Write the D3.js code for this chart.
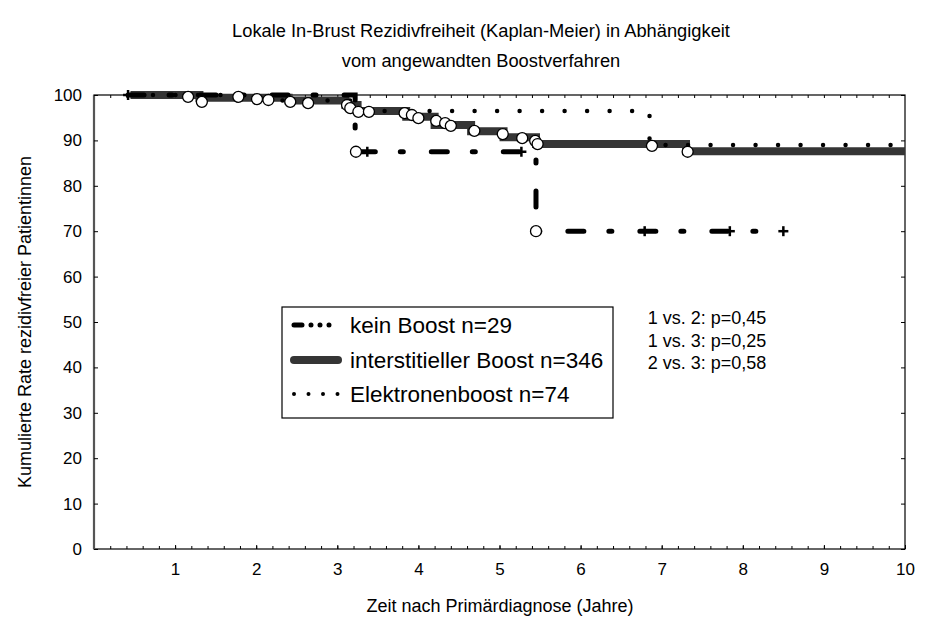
<!DOCTYPE html>
<html lang="de">
<head>
<meta charset="UTF-8">
<title>Kaplan-Meier Boostverfahren</title>
<script src="https://d3js.org/d3.v7.min.js"></script>
<style>
    body { margin: 0; background: #fff; }
    text { font-family: Arial, "Liberation Sans", sans-serif; fill: #000; }
</style>
</head>
<body>
<svg id="chart" width="927" height="619"></svg>
<script>
    // step points [years, % rezidivfrei]
    const keinBoost = [[0.42, 100], [3.22, 87.5], [5.45, 70], [8.5, 70]];
    const interstitiell = [[0.45, 100], [1.3, 99.4], [2.4, 98.8], [3.1, 97.8], [3.25, 96.5], [3.85, 95.2],
        [4.2, 93.4], [4.65, 92.0], [5.05, 90.7], [5.45, 89.2], [7.3, 87.6], [10, 87.6]];
    const elektronen = [[0.45, 100], [1.6, 98.8], [3.25, 96.5], [6.85, 89], [10, 89]];

    // markers
    const keinCircles = [[3.23, 87.5], [5.45, 70]];
    const keinPlus = [[0.42, 100], [3.37, 87.5], [5.27, 87.5], [6.79, 70], [7.84, 70], [8.5, 70]];
    const interCircles = [[1.16, 99.6], [1.33, 98.5], [1.78, 99.6], [2.01, 99.1], [2.15, 98.9], [2.42, 98.5],
        [2.64, 98.2], [3.12, 97.8], [3.16, 97.1], [3.26, 96.3], [3.39, 96.3], [3.83, 96.0], [3.92, 95.6],
        [4.0, 94.9], [4.22, 94.3], [4.33, 93.8], [4.4, 93.2], [4.69, 92.1], [5.04, 91.4], [5.28, 90.5],
        [5.44, 89.9], [5.47, 89.2], [6.88, 88.8], [7.32, 87.5]];

    const xTicks = [1, 2, 3, 4, 5, 6, 7, 8, 9, 10];
    const yTicks = [0, 10, 20, 30, 40, 50, 60, 70, 80, 90, 100];
    const legendLabels = ["kein Boost n=29", "interstitieller Boost n=346", "Elektronenboost n=74"];
    const pValues = ["1 vs. 2: p=0,45", "1 vs. 3: p=0,25", "2 vs. 3: p=0,58"];

    const margin = {left: 94, top: 95, right: 22, bottom: 70};
    const width = 927, height = 619;
    const svg = d3.select("#chart");

    const x = d3.scaleLinear().domain([0, 10]).range([margin.left, width - margin.right]);
    const y = d3.scaleLinear().domain([0, 100]).range([height - margin.bottom, margin.top]);

    // titles
    svg.append("text").attr("x", 481).attr("y", 37).attr("text-anchor", "middle")
        .attr("font-size", 18.3).text("Lokale In-Brust Rezidivfreiheit (Kaplan-Meier) in Abhängigkeit");
    svg.append("text").attr("x", 481).attr("y", 67).attr("text-anchor", "middle")
        .attr("font-size", 18.3).text("vom angewandten Boostverfahren");

    // frame
    svg.append("rect")
        .attr("x", x(0)).attr("y", y(100))
        .attr("width", x(10) - x(0)).attr("height", y(0) - y(100))
        .attr("fill", "#fff").attr("stroke", "#000").attr("stroke-width", 1.2);
    svg.append("line").attr("x1", x(0)).attr("x2", x(0)).attr("y1", y(100)).attr("y2", y(0))
        .attr("stroke", "#555").attr("stroke-width", 2.2);

    // axes, ticks inside
    const minor = d3.range(0.2, 10, 0.2);
    svg.append("g").attr("transform", `translate(0,${y(0)})`)
        .call(d3.axisBottom(x).tickValues(minor).tickSize(-3).tickFormat(""))
        .call(g => g.select(".domain").remove());
    svg.append("g").attr("transform", `translate(0,${y(100)})`)
        .call(d3.axisTop(x).tickValues(minor).tickSize(-3).tickFormat(""))
        .call(g => g.select(".domain").remove());
    svg.append("g").attr("transform", `translate(0,${y(0)})`)
        .call(d3.axisBottom(x).tickValues(xTicks).tickSize(-4).tickPadding(14).tickFormat(d3.format("d")))
        .call(g => g.select(".domain").remove())
        .call(g => g.selectAll("text").attr("font-size", 17).attr("font-family", "Arial, 'Liberation Sans', sans-serif"));
    svg.append("g").attr("transform", `translate(${x(0)},0)`)
        .call(d3.axisLeft(y).tickValues(yTicks).tickSize(-4).tickPadding(12).tickFormat(d3.format("d")))
        .call(g => g.select(".domain").remove())
        .call(g => g.selectAll("text").attr("font-size", 17).attr("font-family", "Arial, 'Liberation Sans', sans-serif"));
    svg.append("g").attr("transform", `translate(${x(10)},0)`)
        .call(d3.axisRight(y).tickValues(yTicks).tickSize(-4).tickFormat(""))
        .call(g => g.select(".domain").remove());

    // axis labels
    svg.append("text").attr("x", 500).attr("y", 612).attr("text-anchor", "middle")
        .attr("font-size", 18).text("Zeit nach Primärdiagnose (Jahre)");
    svg.append("text").attr("transform", `translate(31,${(y(0) + y(100)) / 2}) rotate(-90)`)
        .attr("text-anchor", "middle").attr("font-size", 18)
        .text("Kumulierte Rate rezidivfreier Patientinnen");

    const step = d3.line().x(d => x(d[0])).y(d => y(d[1])).curve(d3.curveStepAfter);

    // curves
    svg.append("path").attr("d", step(interstitiell)).attr("fill", "none")
        .attr("stroke", "#353535").attr("stroke-width", 8);
    svg.append("path").attr("d", step(elektronen)).attr("fill", "none")
        .attr("stroke", "#000").attr("stroke-width", 4.5)
        .attr("stroke-linecap", "round").attr("stroke-dasharray", "0,22.5");
    svg.append("path").attr("d", step(keinBoost)).attr("fill", "none")
        .attr("stroke", "#000").attr("stroke-width", 5)
        .attr("stroke-linecap", "round").attr("stroke-dasharray", "16,25,3,28");

    // markers
    const plus = svg.append("g").attr("stroke", "#000").attr("stroke-width", 2.5);
    keinPlus.forEach(d => {
        plus.append("line").attr("x1", x(d[0]) - 5).attr("x2", x(d[0]) + 5).attr("y1", y(d[1])).attr("y2", y(d[1]));
        plus.append("line").attr("x1", x(d[0])).attr("x2", x(d[0])).attr("y1", y(d[1]) - 5).attr("y2", y(d[1]) + 5);
    });
    svg.append("g").selectAll("circle").data(interCircles.concat(keinCircles)).join("circle")
        .attr("cx", d => x(d[0])).attr("cy", d => y(d[1])).attr("r", 5.5)
        .attr("fill", "#fff").attr("stroke", "#000").attr("stroke-width", 1.3);

    // legend
    const lg = svg.append("g");
    lg.append("rect").attr("x", 282).attr("y", 307).attr("width", 331).attr("height", 111)
        .attr("fill", "#fff").attr("stroke", "#000").attr("stroke-width", 1.2);
    const rowY = [325, 360, 394];
    lg.append("line").attr("x1", 294).attr("x2", 338).attr("y1", rowY[0]).attr("y2", rowY[0])
        .attr("stroke", "#000").attr("stroke-width", 5).attr("stroke-linecap", "round")
        .attr("stroke-dasharray", "8,9,0,9,0,9,0,20");
    lg.append("line").attr("x1", 294).attr("x2", 338).attr("y1", rowY[1]).attr("y2", rowY[1])
        .attr("stroke", "#353535").attr("stroke-width", 8).attr("stroke-linecap", "round");
    lg.append("line").attr("x1", 294).attr("x2", 338).attr("y1", rowY[2]).attr("y2", rowY[2])
        .attr("stroke", "#000").attr("stroke-width", 4).attr("stroke-linecap", "round")
        .attr("stroke-dasharray", "0,14.5");
    lg.selectAll("text.lab").data(legendLabels).join("text").attr("class", "lab")
        .attr("x", 350).attr("y", (d, i) => rowY[i]).attr("dy", "0.36em")
        .attr("font-size", 22.5).text(d => d);

    // log-rank p values
    svg.selectAll("text.pv").data(pValues).join("text").attr("class", "pv")
        .attr("x", 707).attr("y", (d, i) => 318 + i * 22.5).attr("dy", "0.36em")
        .attr("text-anchor", "middle").attr("font-size", 18).text(d => d);
</script>
</body>
</html>
